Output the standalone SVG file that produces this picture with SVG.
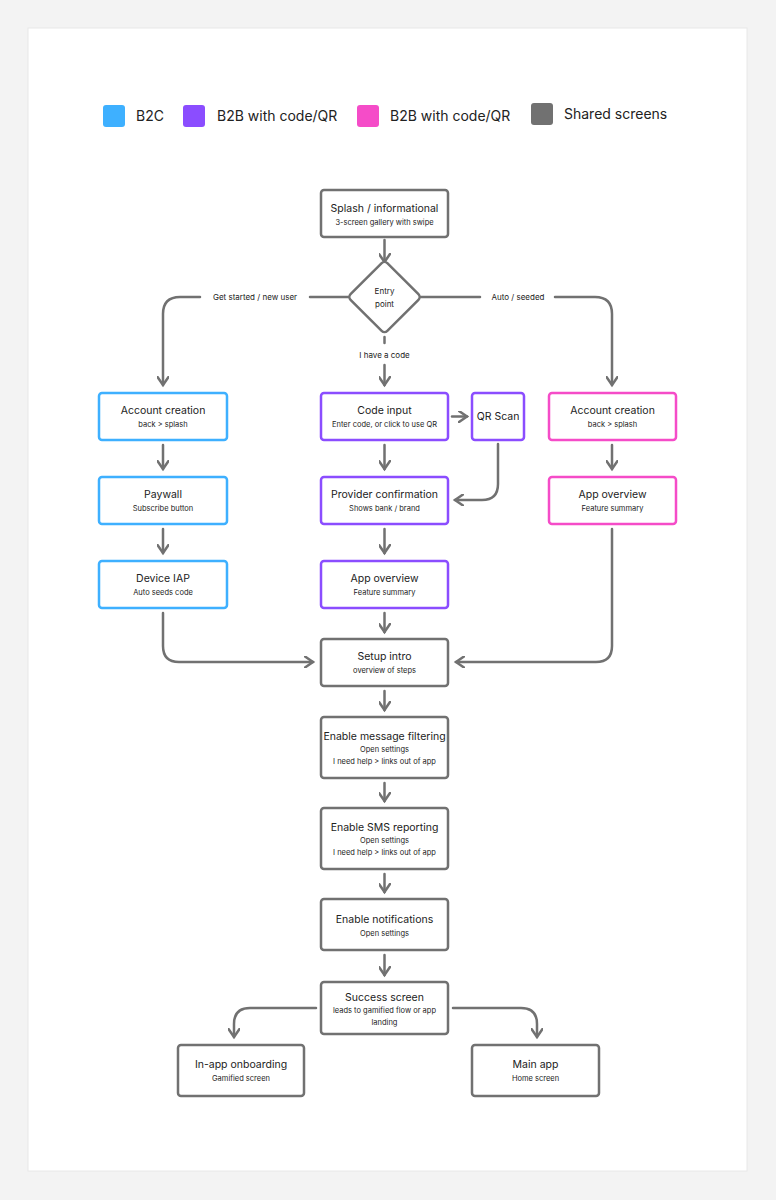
<svg xmlns="http://www.w3.org/2000/svg" width="776" height="1200" viewBox="0 0 776 1200">
<style>
text{font-family:Inter,"Noto Sans",sans-serif;fill:#222;text-anchor:middle}
.t{font-size:10.5px}.s{font-size:7.5px}.l{font-size:14px;text-anchor:start}.c{font-size:8px}
.n{fill:#fff;stroke-width:2.5}
.g{stroke:#717171}.b{stroke:#3eb0ff}.p{stroke:#8b4dff}.k{stroke:#f54cc8}
.e{fill:none;stroke:#717171;stroke-width:2.5;stroke-linecap:round;stroke-linejoin:round}
.lb{fill:#fff}
</style>
<defs>
<marker id="a" markerWidth="12" markerHeight="12" refX="9" refY="6" orient="auto" markerUnits="userSpaceOnUse">
<path d="M1,0.5 L9,6 L1,11.5" fill="none" stroke="#717171" stroke-width="2.5" stroke-linecap="round"/>
</marker>
</defs>
<rect width="776" height="1200" fill="#f3f3f3"/>
<rect x="28" y="28" width="719" height="1143" fill="#fff" stroke="#e8e8e8"/>
<g id="legend">
<rect x="103" y="105" width="22" height="22" rx="3" fill="#3eb0ff"/><text class="l" x="136" y="121">B2C</text>
<rect x="183" y="105" width="22" height="22" rx="3" fill="#8b4dff"/><text class="l" x="217" y="121">B2B with code/QR</text>
<rect x="357" y="105" width="22" height="22" rx="3" fill="#f54cc8"/><text class="l" x="390" y="121">B2B with code/QR</text>
<rect x="531" y="103" width="22" height="22" rx="3" fill="#717171"/><text class="l" x="564" y="119">Shared screens</text>
</g>
<g id="connectors">
<path class="e" d="M384.5,240 V262" marker-end="url(#a)"/>
<path class="e" d="M348,297 H310 M200,297 H180 Q163,297 163,314 V385" marker-end="url(#a)"/>
<text class="c" x="255" y="300">Get started / new user</text>
<path class="e" d="M421,297 H480 M555,297 H595 Q612,297 612,314 V385" marker-end="url(#a)"/>
<text class="c" x="518" y="300">Auto / seeded</text>
<path class="e" d="M384.5,337 V343"/>
<text class="c" x="384.5" y="358">I have a code</text>
<path class="e" d="M384.5,365 V385" marker-end="url(#a)"/>
<path class="e" d="M452,416.5 H467" marker-end="url(#a)"/>
<path class="e" d="M163,445 V469" marker-end="url(#a)"/>
<path class="e" d="M163,529 V553" marker-end="url(#a)"/>
<path class="e" d="M384.5,445 V469" marker-end="url(#a)"/>
<path class="e" d="M384.5,529 V553" marker-end="url(#a)"/>
<path class="e" d="M384.5,613 V632" marker-end="url(#a)"/>
<path class="e" d="M612,445 V469" marker-end="url(#a)"/>
<path class="e" d="M498,444 V484 Q498,500 482,500 H455" marker-end="url(#a)"/>
<path class="e" d="M163,613 V646 Q163,662 179,662 H313" marker-end="url(#a)"/>
<path class="e" d="M612,529 V646 Q612,662 596,662 H456" marker-end="url(#a)"/>
<path class="e" d="M384.5,691 V710" marker-end="url(#a)"/>
<path class="e" d="M384.5,783 V801" marker-end="url(#a)"/>
<path class="e" d="M384.5,874 V892" marker-end="url(#a)"/>
<path class="e" d="M384.5,955 V975" marker-end="url(#a)"/>
<path class="e" d="M316,1008 H250 Q234,1008 234,1024 V1037" marker-end="url(#a)"/>
<path class="e" d="M453,1008 H521 Q537,1008 537,1024 V1037" marker-end="url(#a)"/>
</g>
<g id="splash"><rect class="n g" x="321" y="190" width="127" height="47" rx="3"/><text class="t" x="384.5" y="212">Splash / informational</text><text class="s" x="384.5" y="225">3-screen gallery with swipe</text></g>
<g id="entry"><rect class="n g" x="358.5" y="271" width="52" height="52" rx="4" transform="rotate(45 384.5 297)"/><text class="c" x="384.5" y="294">Entry</text><text class="c" x="384.5" y="307">point</text></g>
<g id="acc-b2c"><rect class="n b" x="99" y="393" width="128" height="47" rx="3"/><text class="t" x="163" y="414">Account creation</text><text class="s" x="163" y="427">back &gt; splash</text></g>
<g id="paywall"><rect class="n b" x="99" y="477" width="128" height="47" rx="3"/><text class="t" x="163" y="498">Paywall</text><text class="s" x="163" y="511">Subscribe button</text></g>
<g id="iap"><rect class="n b" x="99" y="561" width="128" height="47" rx="3"/><text class="t" x="163" y="582">Device IAP</text><text class="s" x="163" y="595">Auto seeds code</text></g>
<g id="code"><rect class="n p" x="321" y="393" width="127" height="47" rx="3"/><text class="t" x="384.5" y="414">Code input</text><text class="s" x="384.5" y="427">Enter code, or click to use QR</text></g>
<g id="qr"><rect class="n p" x="472" y="393" width="52" height="47" rx="3"/><text class="t" x="498" y="420">QR Scan</text></g>
<g id="provider"><rect class="n p" x="321" y="477" width="127" height="47" rx="3"/><text class="t" x="384.5" y="498">Provider confirmation</text><text class="s" x="384.5" y="511">Shows bank / brand</text></g>
<g id="overview-b2b"><rect class="n p" x="321" y="561" width="127" height="47" rx="3"/><text class="t" x="384.5" y="582">App overview</text><text class="s" x="384.5" y="595">Feature summary</text></g>
<g id="acc-pink"><rect class="n k" x="549" y="393" width="127" height="47" rx="3"/><text class="t" x="612.5" y="414">Account creation</text><text class="s" x="612.5" y="427">back &gt; splash</text></g>
<g id="overview-pink"><rect class="n k" x="549" y="477" width="127" height="47" rx="3"/><text class="t" x="612.5" y="498">App overview</text><text class="s" x="612.5" y="511">Feature summary</text></g>
<g id="setup"><rect class="n g" x="321" y="639" width="127" height="47" rx="3"/><text class="t" x="384.5" y="660">Setup intro</text><text class="s" x="384.5" y="673">overview of steps</text></g>
<g id="filter"><rect class="n g" x="321" y="717" width="127" height="61" rx="3"/><text class="t" x="384.5" y="740">Enable message filtering</text><text class="s" x="384.5" y="752">Open settings</text><text class="s" x="384.5" y="764">I need help &gt; links out of app</text></g>
<g id="sms"><rect class="n g" x="321" y="808" width="127" height="61" rx="3"/><text class="t" x="384.5" y="831">Enable SMS reporting</text><text class="s" x="384.5" y="843">Open settings</text><text class="s" x="384.5" y="855">I need help &gt; links out of app</text></g>
<g id="notif"><rect class="n g" x="321" y="899" width="127" height="51" rx="3"/><text class="t" x="384.5" y="923">Enable notifications</text><text class="s" x="384.5" y="936">Open settings</text></g>
<g id="success"><rect class="n g" x="321" y="982" width="127" height="52" rx="3"/><text class="t" x="384.5" y="1001">Success screen</text><text class="s" x="384.5" y="1013">leads to gamified flow or app</text><text class="s" x="384.5" y="1025">landing</text></g>
<g id="inapp"><rect class="n g" x="178" y="1045" width="126" height="51" rx="3"/><text class="t" x="241" y="1068">In-app onboarding</text><text class="s" x="241" y="1081">Gamified screen</text></g>
<g id="main"><rect class="n g" x="472" y="1045" width="127" height="51" rx="3"/><text class="t" x="535.5" y="1068">Main app</text><text class="s" x="535.5" y="1081">Home screen</text></g>
</svg>
